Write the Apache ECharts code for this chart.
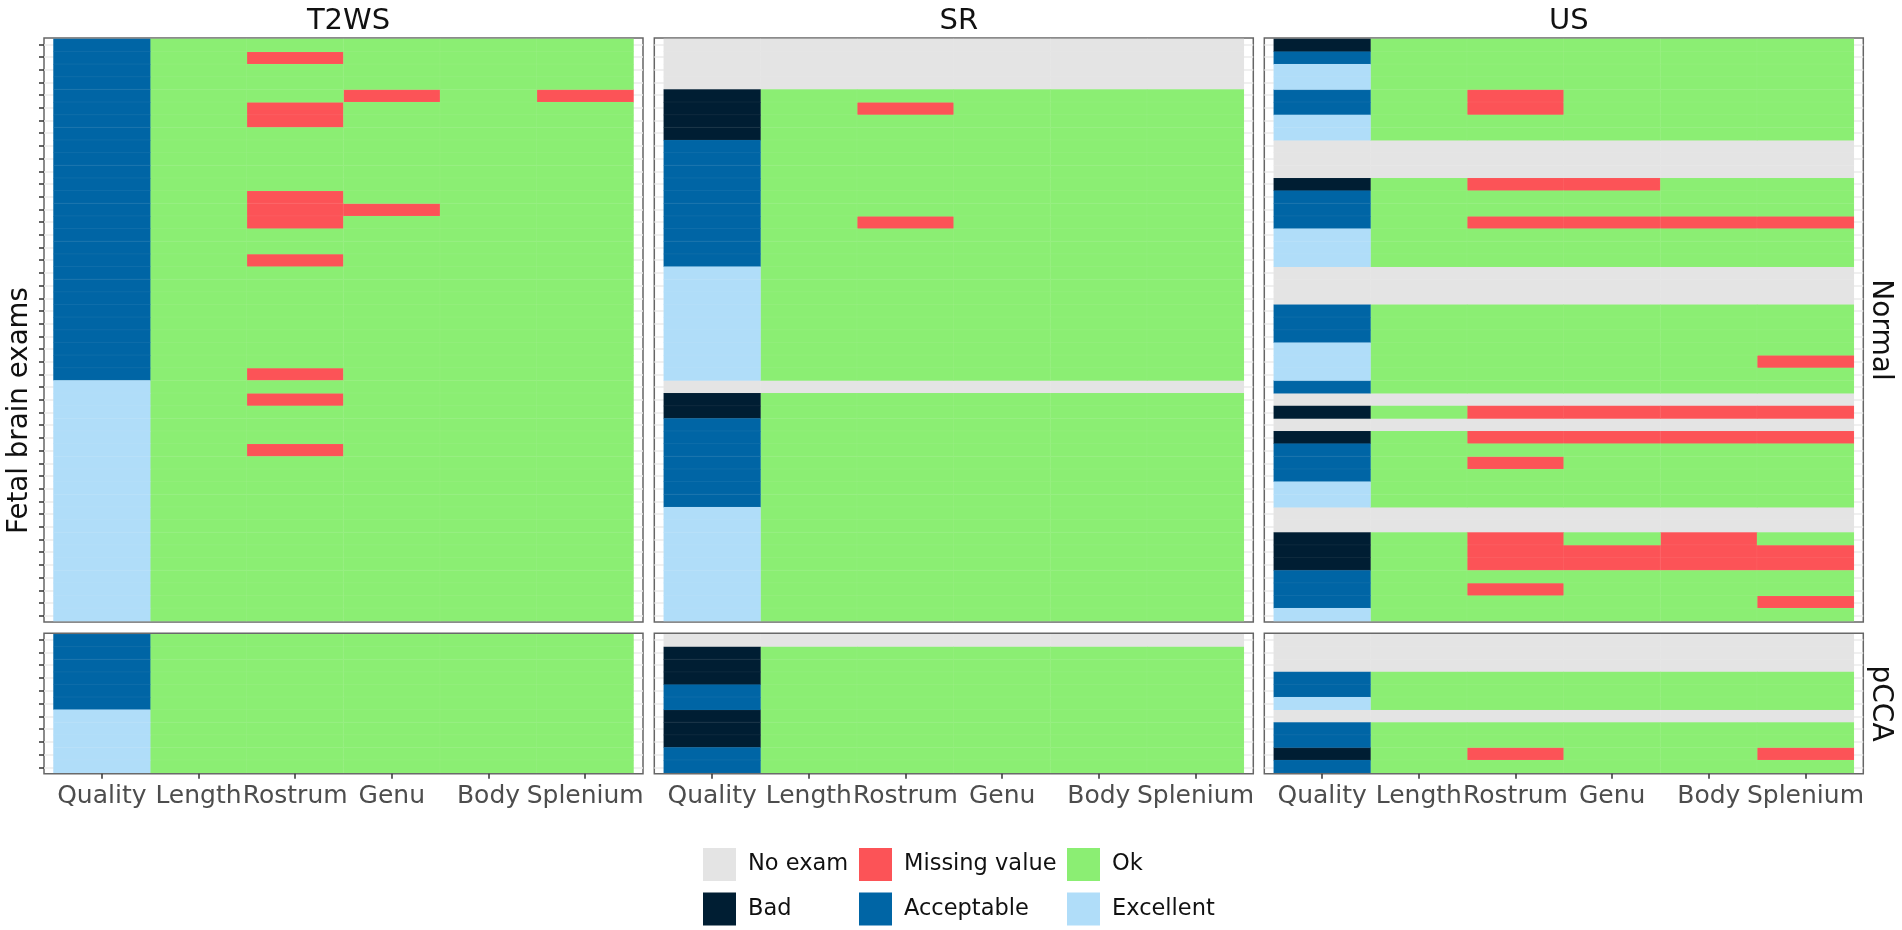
<!DOCTYPE html>
<html>
<head>
<meta charset="utf-8">
<style>html,body{margin:0;padding:0;background:#fff}#c{width:1902px;height:930px}</style>
<script src="https://cdn.jsdelivr.net/npm/echarts@6/dist/echarts.min.js"></script>
</head>
<body>
<div id="c"></div>
<script>
// Categories
const columns = ['Quality','Length','Rostrum','Genu','Body','Splenium'];
const statuses = ['No exam','Missing value','Ok','Bad','Acceptable','Excellent'];
const modalities = ['T2WS','SR','US'];
const groups = ['Normal','pCCA'];

// Quality per exam (top row first): N = no exam, B = bad, A = acceptable, E = excellent
const t2wsNormalQuality = ['A','A','A','A','A','A','A','A','A','A','A','A','A','A','A','A','A','A','A','A','A','A','A','A','A','A','A','E','E','E','E','E','E','E','E','E','E','E','E','E','E','E','E','E','E','E'];
const srNormalQuality   = ['N','N','N','N','B','B','B','B','A','A','A','A','A','A','A','A','A','A','E','E','E','E','E','E','E','E','E','N','B','B','A','A','A','A','A','A','A','E','E','E','E','E','E','E','E','E'];
const usNormalQuality   = ['B','A','E','E','A','A','E','E','N','N','N','B','A','A','A','E','E','E','N','N','N','A','A','A','E','E','E','A','N','B','N','B','A','A','A','E','E','N','N','B','B','B','A','A','A','E'];
const t2wsPccaQuality   = ['A','A','A','A','A','A','E','E','E','E','E'];
const srPccaQuality     = ['N','B','B','B','A','A','B','B','B','A','A'];
const usPccaQuality     = ['N','N','N','A','A','E','N','A','A','B','A'];

// Missing values: [exam row, measure column]
const t2wsNormalMissing = [[1,2],[4,3],[4,5],[5,2],[6,2],[12,2],[13,2],[13,3],[14,2],[17,2],[26,2],[28,2],[32,2]];
const srNormalMissing   = [[5,2],[14,2]];
const usNormalMissing   = [[4,2],[5,2],[11,2],[11,3],[14,2],[14,3],[14,4],[14,5],[25,5],[29,2],[29,3],[29,4],[29,5],[31,2],[31,3],[31,4],[31,5],[33,2],[39,2],[39,4],[40,2],[40,3],[40,4],[40,5],[41,2],[41,3],[41,4],[41,5],[43,2],[44,5]];
const t2wsPccaMissing   = [];
const srPccaMissing     = [];
const usPccaMissing     = [[9,2],[9,5]];

const panelData = [
  [[t2wsNormalQuality,t2wsNormalMissing],[srNormalQuality,srNormalMissing],[usNormalQuality,usNormalMissing]],
  [[t2wsPccaQuality,t2wsPccaMissing],[srPccaQuality,srPccaMissing],[usPccaQuality,usPccaMissing]]
];

// Style and layout
const statusColors = {'No exam':'#E4E4E4','Missing value':'#FC5357','Ok':'#8BEE73','Bad':'#001E33','Acceptable':'#0065A5','Excellent':'#B0DDF9'};
const qualityName = {N:'No exam',B:'Bad',A:'Acceptable',E:'Excellent'};
const FONT = '"DejaVu Sans"';
const frameX = [44,654.3,1264.3], frameW = 599, tileInset = 9.5;
const frameY = [38,633.3], frameH = [584,140.5];

const grids=[], xAxes=[], yAxes=[], series=[], titles=[];

function addGrid(g,x,y){ g.outerBoundsMode='none'; grids.push(g); x.gridIndex=grids.length-1; y.gridIndex=grids.length-1; xAxes.push(x); yAxes.push(y); return grids.length-1; }

groups.forEach((group,gi)=>{
  modalities.forEach((mod,mi)=>{
    const [quality,missing] = panelData[gi][mi];
    const rows = quality.map((_,i)=>String(i+1));
    // frame panel: border, margin gridlines, y ticks
    addGrid(
      {left:frameX[mi],top:frameY[gi],width:frameW,height:frameH[gi],show:true,borderColor:'#666',borderWidth:1.5,backgroundColor:'#fff',containLabel:false},
      {type:'category',data:columns,show:false},
      {type:'category',data:rows,inverse:true,
       axisLine:{show:false},axisLabel:{show:false,interval:0},
       axisTick:{show:mi===0,interval:0,alignWithLabel:true,length:5,lineStyle:{color:'#333',width:1.5}},
       splitLine:{show:true,interval:0,alignWithLabel:true,lineStyle:{color:'#EBEBEB',width:1.5}}}
    );
    // tile panel
    const showX = gi===1;
    const idx = addGrid(
      {left:frameX[mi]+tileInset,top:frameY[gi]+1,width:frameW-2*tileInset,height:frameH[gi]-2},
      {type:'category',data:columns,show:showX,offset:1,
       axisLine:{show:false},
       axisTick:{show:true,interval:0,alignWithLabel:true,length:5,lineStyle:{color:'#333',width:1.5}},
       axisLabel:{show:true,interval:0,hideOverlap:false,margin:10,fontFamily:FONT,fontSize:25,color:'#4D4D4D'},
       splitLine:{show:false}},
      {type:'category',data:rows,inverse:true,position:mi===2?'right':'left',show:mi===2,
       name:mi===2?group:'',nameLocation:'middle',nameRotate:-90,nameGap:12,
       nameTextStyle:{fontFamily:FONT,fontSize:28,color:'#111'},
       axisLine:{show:false},axisTick:{show:false},axisLabel:{show:false},splitLine:{show:false}}
    );
    // cells by status: [column, row, status index]
    const cells = {}; statuses.forEach(s=>cells[s]=[]);
    const isMissing = {}; missing.forEach(m=>isMissing[m[0]+'_'+m[1]]=true);
    quality.forEach((q,r)=>{
      columns.forEach((c,k)=>{
        let s;
        if(q==='N') s='No exam';
        else if(k===0) s=qualityName[q];
        else if(isMissing[r+'_'+k]) s='Missing value';
        else s='Ok';
        cells[s].push([k,r,statuses.indexOf(s)]);
      });
    });
    statuses.forEach(s=>{
      series.push({type:'heatmap',name:s,xAxisIndex:idx,yAxisIndex:idx,data:cells[s],
        itemStyle:{color:statusColors[s],borderColor:'rgba(255,255,255,0.05)',borderWidth:1},
        emphasis:{disabled:true},progressive:0});
    });
    if(gi===0){
      titles.push({text:mod,left:frameX[mi]+frameW/2,top:2,textAlign:'center',
        textStyle:{fontFamily:FONT,fontSize:29,fontWeight:'normal',color:'#111'}});
    }
  });
});

// invisible grid spanning both rows, carrying the shared y axis title
addGrid(
  {left:44,top:38,width:599,height:745},
  {type:'value',show:false},
  {type:'value',name:'Fetal brain exams',nameLocation:'middle',nameGap:10,
   nameTextStyle:{fontFamily:FONT,fontSize:27.7,color:'#111'},
   axisLine:{show:false},axisTick:{show:false},axisLabel:{show:false},splitLine:{show:false}}
);

function legendCol(left,names){
  return {orient:'vertical',left:left,top:848,itemWidth:33,itemHeight:33,itemGap:11.5,padding:0,
    data:names.map(n=>({name:n,icon:'rect',itemStyle:{color:statusColors[n],borderWidth:0}})),
    selectedMode:false,
    textStyle:{fontFamily:FONT,fontSize:22.5,color:'#111',padding:[0,0,0,7]}};
}

const chart = echarts.init(document.getElementById('c'),null,{renderer:'canvas'});
chart.setOption({
  animation:false,backgroundColor:'#fff',
  title:titles,
  legend:[legendCol(703,['No exam','Bad']),legendCol(859,['Missing value','Acceptable']),legendCol(1067,['Ok','Excellent'])],
  tooltip:{show:false},
  grid:grids,xAxis:xAxes,yAxis:yAxes,series:series
});
</script>
</body>
</html>
